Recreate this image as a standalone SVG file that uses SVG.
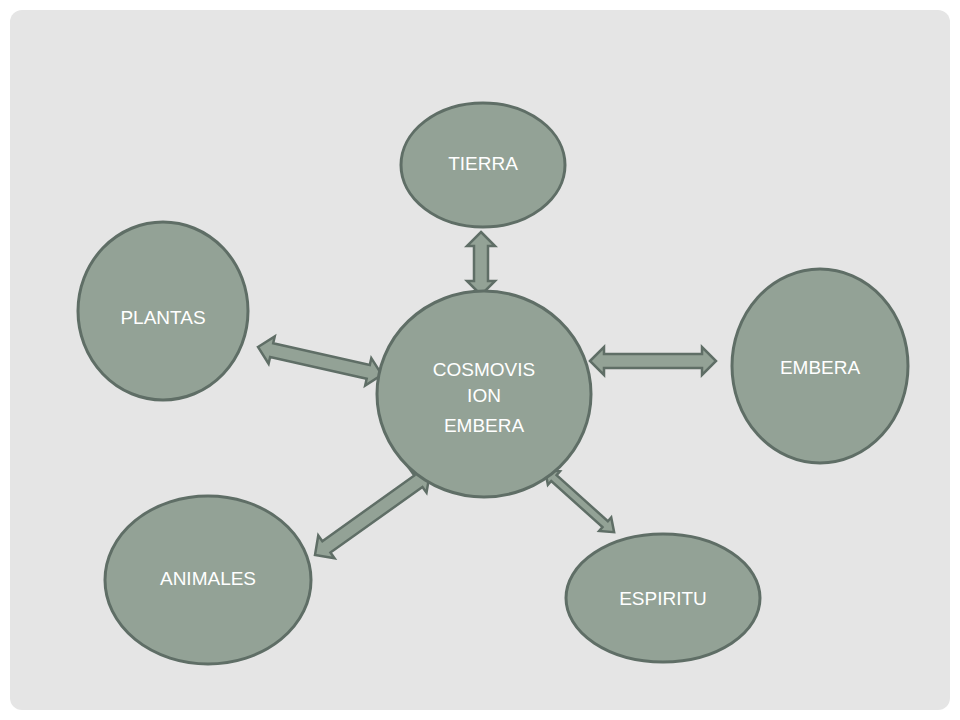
<svg xmlns="http://www.w3.org/2000/svg" width="960" height="720" viewBox="0 0 960 720">
<style>
.n{fill:#93a296;stroke:#5f6e66;stroke-width:3}
.a{fill:#93a296;stroke:#5f6e66;stroke-width:2.5;stroke-linejoin:miter}
text{font-family:"Century Gothic","Liberation Sans",sans-serif;font-size:19px;fill:#fff;text-anchor:middle}
</style>
<rect width="960" height="720" fill="#fff"/>
<rect x="10" y="10" width="940" height="700" rx="12" fill="#e5e5e5"/>
<g id="connectors">
<polygon class="a" transform="translate(481,232) rotate(90)" points="0,0 14,-14 14,-7 49,-7 49,-14 63,0 49,14 49,7 14,7 14,14"/>
<polygon class="a" transform="translate(258,347) rotate(12.7)" points="0,0 14,-14 14,-7 113,-7 113,-14 127,0 113,14 113,7 14,7 14,14"/>
<polygon class="a" transform="translate(590,361)" points="0,0 14,-14 14,-7 112,-7 112,-14 126,0 112,14 112,7 14,7 14,14"/>
<polygon class="a" transform="translate(315,555) rotate(-35.5)" points="0,0 14,-14 14,-7 127,-7 127,-14 141,0 127,14 127,7 14,7 14,14"/>
<polygon class="a" transform="translate(545,470) rotate(42)" points="0,0 12,-9 12,-4 81,-4 81,-9 93,0 81,9 81,4 12,4 12,9"/>
</g>
<g id="tierra"><ellipse class="n" cx="483" cy="165" rx="82" ry="62"/><text x="483" y="170">TIERRA</text></g>
<g id="plantas"><ellipse class="n" cx="163" cy="311" rx="85" ry="89"/><text x="163" y="324">PLANTAS</text></g>
<g id="embera"><ellipse class="n" cx="820" cy="366" rx="88" ry="97"/><text x="820" y="374">EMBERA</text></g>
<g id="cosmovision"><ellipse class="n" cx="484" cy="394" rx="107" ry="103"/><text x="484" y="376">COSMOVIS</text><text x="484" y="402">ION</text><text x="484" y="432">EMBERA</text></g>
<g id="animales"><ellipse class="n" cx="208" cy="580" rx="103" ry="84"/><text x="208" y="585">ANIMALES</text></g>
<g id="espiritu"><ellipse class="n" cx="663" cy="598" rx="97" ry="64"/><text x="663" y="605">ESPIRITU</text></g>
</svg>
